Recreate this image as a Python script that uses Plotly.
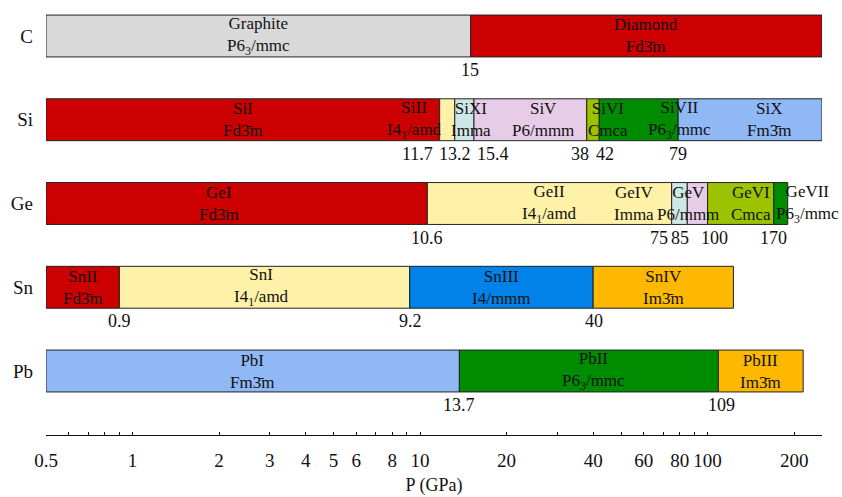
import numpy as np
import plotly.graph_objects as go

# ---------------- data ----------------
elements = ["C", "Si", "Ge", "Sn", "Pb"]

C_bounds = [0.5, 15, 250]
C_phases = ["Graphite", "Diamond"]
C_groups = ["P6<sub>3</sub>/mmc", "Fd3\u0304m"]
C_label_p = [2.74, 61]
C_marks = [15]

Si_bounds = [0.5, 11.7, 13.2, 15.4, 38, 42, 79, 250]
Si_phases = ["SiI", "SiII", "SiXI", "SiV", "SiVI", "SiVII", "SiX"]
Si_groups = ["Fd3\u0304m", "I4<sub>1</sub>/amd", "Imma", "P6/mmm", "Cmca", "P6<sub>3</sub>/mmc", "Fm3\u0304m"]
Si_label_p = [2.42, 9.6, 15.0, 26.8, 45.1, 79.7, 163]
Si_marks = [11.7, 13.2, 15.4, 38, 42, 79]

Ge_bounds = [0.5, 10.6, 75, 85, 100, 170, 190]
Ge_phases = ["GeI", "GeII", "GeIV", "GeV", "GeVI", "GeVII"]
Ge_groups = ["Fd3\u0304m", "I4<sub>1</sub>/amd", "Imma", "P6/mmm", "Cmca", "P6<sub>3</sub>/mmc"]
Ge_label_p = [2.0, 28.3, 55.6, 85.7, 142, 222]
Ge_marks = [10.6, 75, 85, 100, 170]

Sn_bounds = [0.5, 0.9, 9.2, 40, 123]
Sn_phases = ["SnII", "SnI", "SnIII", "SnIV"]
Sn_groups = ["Fd3\u0304m", "I4<sub>1</sub>/amd", "I4/mmm", "Im3\u0304m"]
Sn_label_p = [0.67, 2.8, 19.2, 70]
Sn_marks = [0.9, 9.2, 40]

Pb_bounds = [0.5, 13.7, 109, 215]
Pb_phases = ["PbI", "PbII", "PbIII"]
Pb_groups = ["Fm3\u0304m", "P6<sub>3</sub>/mmc", "Im3\u0304m"]
Pb_label_p = [2.61, 40, 153]
Pb_marks = [13.7, 109]

tick_vals = [0.5, 2, 3, 4, 5, 6, 8, 20, 40, 60, 80, 200]
tick_text = ["0.5", "2", "3", "4", "5", "6", "8", "20", "40", "60", "80", "200"]
decade_vals = [1, 10, 100]
decade_text = ["1", "10", "100"]
minor_vals = [0.6, 0.7, 0.8, 0.9, 7, 9, 30, 50, 70, 90]

# ---------------- style ----------------
RED = "#cc0000"
GRAY = "#d9d9d9"
YEL = "#fff2a8"
CYAN = "#cde6e6"
PINK = "#e6cce6"
YG = "#9dc300"
GREEN = "#008c00"
LBLUE = "#8fb8f5"
BLUE = "#0082e8"
ORANGE = "#ffb800"

colors = {
    "C": [GRAY, RED],
    "Si": [RED, YEL, CYAN, PINK, YG, GREEN, LBLUE],
    "Ge": [RED, YEL, CYAN, PINK, YG, GREEN],
    "Sn": [RED, YEL, BLUE, ORANGE],
    "Pb": [LBLUE, GREEN, ORANGE],
}
mark_shift = {("C", 15): -1, ("Si", 11.7): -22, ("Si", 15.4): 19, ("Si", 38): -7,
              ("Si", 42): 6, ("Ge", 75): -13, ("Ge", 85): -7, ("Ge", 100): 7,
              ("Pb", 109): 3, ("Sn", 9.2): 1, ("Sn", 40): 1}

FONT = "Liberation Serif"
TXT = "#111111"
data = {
    "C": (C_bounds, C_phases, C_groups, C_label_p, C_marks),
    "Si": (Si_bounds, Si_phases, Si_groups, Si_label_p, Si_marks),
    "Ge": (Ge_bounds, Ge_phases, Ge_groups, Ge_label_p, Ge_marks),
    "Sn": (Sn_bounds, Sn_phases, Sn_groups, Sn_label_p, Sn_marks),
    "Pb": (Pb_bounds, Pb_phases, Pb_groups, Pb_label_p, Pb_marks),
}

fig = go.Figure()
annotations = []
for i, el in enumerate(elements):
    bounds, phases, groups, label_p, marks = data[el]
    starts = bounds[:-1]
    widths = list(np.diff(bounds))
    fig.add_trace(go.Bar(
        y=[i] * len(widths), x=widths, base=starts, orientation="h", width=0.5,
        marker=dict(color=colors[el], line=dict(color="#222222", width=1)),
        showlegend=False, hoverinfo="skip",
    ))
    for name, grp, p in zip(phases, groups, label_p):
        annotations.append(dict(
            x=np.log10(p), y=i, xref="x", yref="y", text=f"{name}<br>{grp}",
            showarrow=False, xanchor="center", yanchor="middle",
            font=dict(family=FONT, size=17, color=TXT),
        ))
    for m in marks:
        annotations.append(dict(
            x=np.log10(m), y=i, xref="x", yref="y", text=f"{m:g}",
            showarrow=False, xanchor="center", yanchor="middle",
            yshift=-34, xshift=mark_shift.get((el, m), 0),
            font=dict(family=FONT, size=18, color=TXT),
        ))

all_vals = tick_vals + decade_vals
all_text = tick_text + decade_text

fig.update_layout(
    width=842, height=497,
    margin=dict(l=46, r=20, t=5, b=62),
    paper_bgcolor="white", plot_bgcolor="white",
    barmode="overlay",
    annotations=annotations,
    font=dict(family=FONT, color=TXT),
    xaxis=dict(
        type="log", range=[np.log10(0.5), np.log10(250)],
        showline=True, linecolor=TXT, linewidth=1,
        showgrid=False, zeroline=False,
        tickmode="array", tickvals=all_vals, ticktext=all_text,
        ticks="inside", ticklen=3, tickcolor=TXT, tickwidth=1,
        tickfont=dict(family=FONT, size=19, color=TXT),
        ticklabelstandoff=8,
        minor=dict(tickmode="array", tickvals=minor_vals, ticks="inside", ticklen=3,
                   tickcolor=TXT, showgrid=False),
        title=dict(text="P (GPa)", font=dict(family=FONT, size=18, color=TXT), standoff=8),
    ),
    yaxis=dict(
        range=[4.764, -0.37], tickmode="array", tickvals=list(range(len(elements))),
        ticktext=elements, showgrid=False, zeroline=False, showline=False, ticks="",
        tickfont=dict(family=FONT, size=19, color=TXT), ticklabelstandoff=12,
    ),
)
fig.write_html("out.html", config={"displayModeBar": False},
               post_script="document.body.style.margin='0';")
